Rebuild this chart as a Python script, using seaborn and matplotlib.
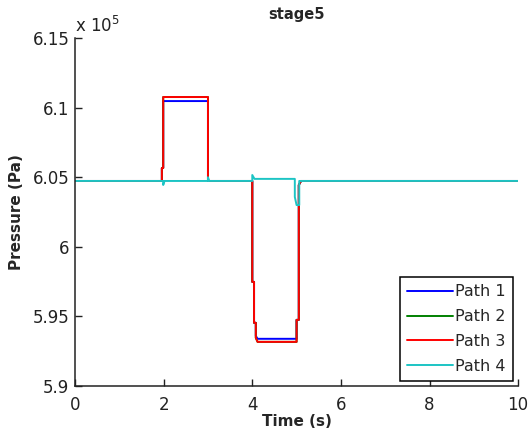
import pandas as pd
import seaborn as sns
import matplotlib.pyplot as plt
from matplotlib.ticker import FuncFormatter

# time (s) and pressure (Pa) points for each path
t_path1 = [0, 1.96, 1.96, 1.99, 1.99, 3.00, 3.00, 4.00, 4.00, 4.04, 4.04, 4.08, 4.08, 4.12, 5.00, 5.00, 5.05, 5.05, 5.10, 10]
p_path1 = [604730, 604730, 605660, 605660, 610470, 610470, 604730, 604730, 597480, 597480, 594540, 594540,
           593600, 593390, 593390, 594750, 594750, 604440, 604730, 604730]

t_path2 = [0, 1.96, 1.96, 1.99, 1.99, 3.00, 3.00, 4.00, 4.00, 4.04, 4.04, 4.08, 4.08, 4.12, 5.00, 5.00, 5.05, 5.05, 5.10, 10]
p_path2 = [604730, 604730, 605660, 605660, 610760, 610760, 604730, 604730, 597480, 597480, 594540, 594540,
           593460, 593170, 593170, 594750, 594750, 604440, 604730, 604730]

t_path3 = [0, 1.96, 1.96, 1.99, 1.99, 3.00, 3.00, 4.00, 4.00, 4.04, 4.04, 4.08, 4.08, 4.12, 5.00, 5.00, 5.05, 5.05, 5.10, 10]
p_path3 = [604730, 604730, 605660, 605660, 610760, 610760, 604730, 604730, 597480, 597480, 594540, 594540,
           593460, 593170, 593170, 594750, 594750, 604440, 604730, 604730]

t_path4 = [0, 1.99, 1.99, 2.02, 3.00, 3.00, 3.03, 4.00, 4.00, 4.05, 4.96, 4.96, 5.00, 5.06, 5.06, 10]
p_path4 = [604730, 604730, 604440, 604730, 604730, 605000, 604730, 604730, 605160, 604880, 604880,
           603580, 603000, 603000, 604730, 604730]

path_names = ['Path 1', 'Path 2', 'Path 3', 'Path 4']
path_colors = ['#0000ff', '#008000', '#ff0000', '#1cc4c4']

frames = []
for name, t, p in zip(path_names, [t_path1, t_path2, t_path3, t_path4],
                      [p_path1, p_path2, p_path3, p_path4]):
    frames.append(pd.DataFrame({'time': t, 'pressure': p, 'path': name}))
df = pd.concat(frames, ignore_index=True)

sns.set_style("ticks")
plt.rcParams['font.family'] = ['DejaVu Sans']

fig = plt.figure(figsize=(5.32, 4.36), dpi=100)
ax = fig.add_axes([0.141, 0.1147, 0.833, 0.7981])

sns.lineplot(data=df, x='time', y='pressure', hue='path', palette=dict(zip(path_names, path_colors)),
             sort=False, estimator=None, linewidth=1.4, ax=ax)

ax.set_xlim(0, 10)
ax.set_ylim(590000, 615000)
ax.set_xticks([0, 2, 4, 6, 8, 10])
ax.set_yticks([590000, 595000, 600000, 605000, 610000, 615000])
ax.yaxis.set_major_formatter(FuncFormatter(lambda v, pos: '%g' % (v / 1e5)))
ax.tick_params(direction='in', length=5, width=1, labelsize=12, colors='#222222')
ax.tick_params(axis='x', pad=7)
ax.tick_params(axis='y', pad=4)
for s in ['top', 'right']:
    ax.spines[s].set_visible(False)
for s in ['left', 'bottom']:
    ax.spines[s].set_linewidth(1.1)
    ax.spines[s].set_color('#222222')

ax.set_title('stage5', fontsize=10.5, fontweight='bold', pad=14)
ax.set_xlabel('Time (s)', fontsize=11, fontweight='bold', labelpad=0)
ax.set_ylabel('Pressure (Pa)', fontsize=11, fontweight='bold', labelpad=6)
ax.text(0.0, 1.005, r'x 10$^5$', transform=ax.transAxes, fontsize=12, ha='left', va='bottom', color='#222222')

leg = ax.legend(loc='lower right', bbox_to_anchor=(0.989, 0.014), borderaxespad=0, fontsize=11.5,
                handlelength=2.9, handletextpad=0.15, labelspacing=0.62, fancybox=False,
                edgecolor='black', framealpha=1, borderpad=0.45)
leg.get_frame().set_linewidth(1.1)

fig.savefig('out.png', dpi=100)
